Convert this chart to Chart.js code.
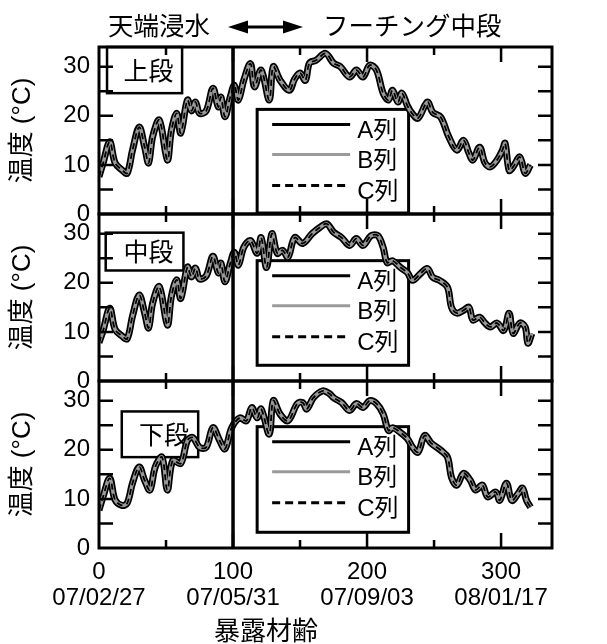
<!DOCTYPE html>
<html>
<head>
<meta charset="utf-8">
<script src="https://cdn.jsdelivr.net/npm/chart.js@4"></script>
<style>
  html, body { margin: 0; padding: 0; background: #fff; }
  #wrap { width: 607px; height: 644px; }
</style>
</head>
<body>
<div id="wrap"><canvas id="tempChart" width="607" height="644"></canvas></div>
<script>
// tick labels
const xTicks = [0, 100, 200, 300];
const xDates = ['07/02/27', '07/05/31', '07/09/03', '08/01/17'];
const yTicks = [0, 10, 20, 30];
const seriesNames = ['A列', 'B列', 'C列'];
const panelNames = ['上段', '中段', '下段'];

// 上段 (days of exposure, temperature)
const daysTop = [0, 3, 8, 12, 17, 21, 25, 30, 34, 37, 40, 45, 51, 54, 58, 61, 66, 69, 72, 75, 80, 85, 89, 91, 94, 98,
  101, 104, 108, 113, 116, 121, 127, 130, 135, 142, 146, 150, 154, 157, 162, 169, 175, 180, 187, 192, 197, 202, 207,
  212, 216, 219, 223, 226, 230, 233, 238, 245, 249, 255, 261, 267, 272, 276, 279, 284, 288, 292, 297, 301, 303, 306,
  309, 314, 318, 322];
const tempTop = [7.6, 10.3, 14.7, 10.4, 9.0, 8.3, 13, 17.7, 13.7, 10.4, 15.7, 19.1, 11, 17, 20.5, 16.5, 23.2, 21, 22.8,
  20.5, 21, 25.6, 21.8, 23.8, 19.8, 23.9, 26.2, 23.2, 27.2, 30.6, 25.9, 29.3, 23.2, 30, 27.3, 25.2, 27.5, 28.7, 27.2,
  30.7, 31.3, 32.7, 30.7, 30, 27.9, 29.3, 27.9, 30.3, 29.3, 24.6, 23.2, 25.2, 22.8, 24.6, 22.1, 20.7, 19.5, 22.8, 20.7,
  19.7, 15.7, 13, 15, 12.4, 11, 13.6, 10.4, 9.6, 11, 13, 14.4, 8.9, 9.6, 11.6, 8.3, 10];

// 中段
const daysMid = [0, 3, 8, 12, 17, 21, 25, 30, 34, 37, 40, 45, 51, 54, 58, 61, 66, 69, 72, 75, 80, 85, 89, 91, 94, 98,
  101, 104, 108, 113, 118, 121, 125, 129, 133, 137, 141, 146, 152, 159, 165, 170, 175, 181, 187, 192, 197, 203, 208,
  212, 215, 219, 225, 230, 234, 240, 245, 249, 254, 260, 263, 267, 272, 276, 279, 284, 288, 292, 297, 302, 306, 309,
  314, 318, 320, 323];
const tempMid = [7.8, 10.2, 14.8, 10.5, 9.2, 8.6, 13.2, 17.5, 13.9, 10.8, 15.8, 19.2, 11.4, 17.2, 20.6, 16.8, 23.2, 21.2,
  23, 20.8, 21.4, 25.4, 22, 24, 20.2, 24, 26.2, 23.6, 27.2, 28.6, 26, 29.2, 23.1, 30, 26, 26.6, 25.2, 29.2, 28, 30, 31.3,
  32, 30.3, 29.2, 27.6, 29, 27.6, 29.6, 29.6, 27.2, 24.1, 24.5, 23.1, 22.1, 20.5, 21.9, 22.9, 21.1, 20.5, 19.1, 15, 13.8,
  14.4, 15, 12.4, 13, 11.8, 11, 11.8, 10.3, 13.8, 9.7, 11.8, 11, 7.7, 9.7];

// 下段
const daysBot = [0, 3, 8, 12, 17, 21, 25, 30, 34, 38, 42, 47, 51, 55, 61, 66, 70, 75, 80, 85, 90, 94, 99, 105, 110, 114,
  118, 121, 127, 130, 135, 141, 148, 152, 155, 160, 167, 172, 175, 181, 187, 192, 197, 202, 207, 212, 216, 219, 225, 230,
  234, 238, 243, 248, 255, 260, 263, 267, 272, 277, 281, 286, 290, 296, 299, 304, 308, 313, 316, 319, 322];
const tempBot = [7.7, 10.4, 14.2, 9.8, 8.7, 9.1, 13.2, 16.5, 13.8, 11.8, 16.5, 18.5, 11.8, 17.8, 17.2, 21.9, 22.5, 20.5,
  20.5, 24.5, 21.9, 20.2, 24.5, 26.5, 25.9, 28.6, 26.5, 28.3, 23.2, 30, 27.3, 25.9, 29.4, 29.6, 28.3, 30.6, 32, 31.4,
  30.6, 29.6, 28, 29.4, 28.6, 30, 29.4, 27.3, 23.9, 24.5, 23.5, 22.3, 20.5, 19.5, 22.9, 21.3, 19.9, 18.5, 14.4, 12.8,
  15.2, 13.8, 11.8, 12.8, 10.4, 11.4, 9.7, 13.2, 9.7, 11.2, 12.2, 9.7, 8.3];

const FONT = "'Liberation Sans', 'Noto Sans CJK JP', sans-serif";
const CJK = "'Noto Sans CJK JP', 'Liberation Sans', sans-serif";

// one set of A/B/C lines for a panel
function panelSets(days, temps, axis) {
  const styles = [
    { borderColor: '#000', borderWidth: 7, order: 3 },
    { borderColor: '#999999', borderWidth: 3.5, order: 2 },
    { borderColor: '#000', borderWidth: 1.8, borderDash: [6, 4], order: 1 },
  ];
  return styles.map((s, k) => Object.assign({
    label: seriesNames[k],
    yAxisID: axis,
    data: days.map((d, i) => ({ x: d, y: temps[i] })),
    pointRadius: 0,
    tension: 0.35,
    fill: false,
  }, s));
}

const panels = [
  { axis: 'yTop', box: [6, 62, 34, 24.6], legend: [118, 231, 21.3, 0.2] },
  { axis: 'yMid', box: [5, 63, 30.2, 22.5], legend: [118, 231, 24.5, 3.2] },
  { axis: 'yBot', box: [17, 74, 27.8, 18.5], legend: [118, 231, 24.7, 3.2] },
];

function yScale() {
  return {
    type: 'linear',
    position: 'left',
    stack: 'panels',
    stackWeight: 1,
    min: 0,
    max: 34,
    afterBuildTicks: s => { s.ticks = yTicks.map(v => ({ value: v })); },
    afterFit: s => { s.width = 99; },
    grid: { display: false, drawTicks: false },
    border: { display: false },
    ticks: { color: '#000', padding: 9, autoSkip: false, font: { family: FONT, size: 24 } },
    title: { display: true, text: '温度 (°C)', color: '#000', padding: { top: 7, bottom: 0 },
             font: { family: FONT, size: 26, lineHeight: 1.2 } },
  };
}

const decor = {
  id: 'decor',
  beforeDatasetsDraw(chart) {
    const ctx = chart.ctx;
    const x = chart.scales.x;
    ctx.save();
    ctx.strokeStyle = '#000';
    panels.forEach((p, n) => {
      const y = chart.scales[p.axis];
      // panel name box
      const bx0 = x.getPixelForValue(p.box[0]), bx1 = x.getPixelForValue(p.box[1]);
      const by0 = y.getPixelForValue(p.box[2]), by1 = y.getPixelForValue(p.box[3]);
      ctx.lineWidth = 2.5;
      ctx.setLineDash([]);
      ctx.strokeRect(bx0, by0, bx1 - bx0, by1 - by0);
      ctx.fillStyle = '#000';
      ctx.font = '25px ' + CJK;
      ctx.textAlign = 'center';
      ctx.textBaseline = 'middle';
      ctx.fillText(panelNames[n], (bx0 + bx1) / 2 + 4, (by0 + by1) / 2);
      // legend box
      const lx0 = x.getPixelForValue(p.legend[0]), lx1 = x.getPixelForValue(p.legend[1]);
      const ly0 = y.getPixelForValue(p.legend[2]), ly1 = y.getPixelForValue(p.legend[3]);
      ctx.lineWidth = 3;
      ctx.strokeRect(lx0, ly0, lx1 - lx0, ly1 - ly0);
      const rows = [15, 45, 76];
      const sw = [{ c: '#000', w: 3, d: [] }, { c: '#9a9a9a', w: 3, d: [] }, { c: '#000', w: 3, d: [8, 5] }];
      rows.forEach((off, k) => {
        const ry = ly0 + off;
        ctx.strokeStyle = sw[k].c;
        ctx.lineWidth = sw[k].w;
        ctx.setLineDash(sw[k].d);
        ctx.beginPath();
        ctx.moveTo(lx0 + 15, ry);
        ctx.lineTo(lx0 + 93, ry);
        ctx.stroke();
        ctx.setLineDash([]);
        ctx.fillStyle = '#000';
        ctx.font = '24px ' + FONT;
        ctx.textAlign = 'left';
        ctx.fillText(seriesNames[k], lx0 + 100, ry + 7);
      });
      ctx.strokeStyle = '#000';
    });
    ctx.restore();
  },
  afterDatasetsDraw(chart) {
    const ctx = chart.ctx;
    const x = chart.scales.x;
    const left = x.getPixelForValue(x.min), right = x.getPixelForValue(x.max);
    ctx.save();
    ctx.strokeStyle = '#000';
    ctx.setLineDash([]);
    panels.forEach(p => {
      const y = chart.scales[p.axis];
      const top = y.getPixelForValue(y.max), bot = y.getPixelForValue(y.min);
      ctx.lineWidth = 2.5;
      ctx.beginPath();
      [50, 100, 150, 200, 250, 300].forEach(v => {
        const px = x.getPixelForValue(v);
        const len = v % 100 === 0 ? 15 : 8;
        ctx.moveTo(px, top); ctx.lineTo(px, top + len);
        ctx.moveTo(px, bot); ctx.lineTo(px, bot - len);
      });
      [5, 10, 15, 20, 25, 30].forEach(v => {
        const py = y.getPixelForValue(v);
        ctx.moveTo(left, py); ctx.lineTo(left + 14, py);
        ctx.moveTo(right, py); ctx.lineTo(right - 14, py);
      });
      ctx.stroke();
      ctx.lineWidth = 3;
      ctx.strokeRect(left, top, right - left, bot - top);
    });
    // boundary between 天端浸水 and フーチング中段
    const vx = x.getPixelForValue(100);
    ctx.lineWidth = 3.5;
    ctx.beginPath();
    ctx.moveTo(vx, chart.chartArea.top);
    ctx.lineTo(vx, chart.chartArea.bottom);
    ctx.stroke();
    ctx.restore();
  },
  afterDraw(chart) {
    const ctx = chart.ctx;
    ctx.save();
    ctx.fillStyle = '#000';
    ctx.strokeStyle = '#000';
    ctx.textBaseline = 'middle';
    ctx.font = '25.5px ' + CJK;
    ctx.textAlign = 'left';
    ctx.fillText('天端浸水', 108, 25);
    ctx.fillText('フーチング中段', 323, 25);
    // double arrow
    ctx.lineWidth = 3;
    ctx.beginPath();
    ctx.moveTo(244, 27); ctx.lineTo(287, 27);
    ctx.stroke();
    ctx.beginPath();
    ctx.moveTo(228, 27); ctx.lineTo(248, 20.5); ctx.lineTo(248, 33.5); ctx.closePath();
    ctx.moveTo(303, 27); ctx.lineTo(283, 20.5); ctx.lineTo(283, 33.5); ctx.closePath();
    ctx.fill();
    // x axis title
    ctx.font = '26px ' + CJK;
    ctx.textAlign = 'center';
    ctx.fillText('暴露材齢', 266, 630);
    ctx.restore();
  }
};

const ctx = document.getElementById('tempChart').getContext('2d');
new Chart(ctx, {
  type: 'line',
  data: {
    datasets: [].concat(
      panelSets(daysTop, tempTop, 'yTop'),
      panelSets(daysMid, tempMid, 'yMid'),
      panelSets(daysBot, tempBot, 'yBot')
    ),
  },
  options: {
    responsive: false,
    animation: false,
    devicePixelRatio: 1,
    layout: { padding: { top: 47, right: 55, bottom: 0, left: 0 } },
    plugins: { legend: { display: false }, tooltip: { enabled: false } },
    scales: {
      x: {
        type: 'linear',
        position: 'bottom',
        min: 0,
        max: 338,
        afterBuildTicks: s => { s.ticks = xTicks.map(v => ({ value: v })); },
        afterFit: s => { s.height = 96; },
        grid: { display: false, drawTicks: false },
        border: { display: false },
        ticks: {
          color: '#000', padding: 11, autoSkip: false, maxRotation: 0,
          font: { family: FONT, size: 24, lineHeight: '26px' },
          callback: v => [String(v), xDates[xTicks.indexOf(v)]],
        },
      },
      yBot: yScale(),
      yMid: yScale(),
      yTop: yScale(),
    },
  },
  plugins: [decor],
});
</script>
</body>
</html>
